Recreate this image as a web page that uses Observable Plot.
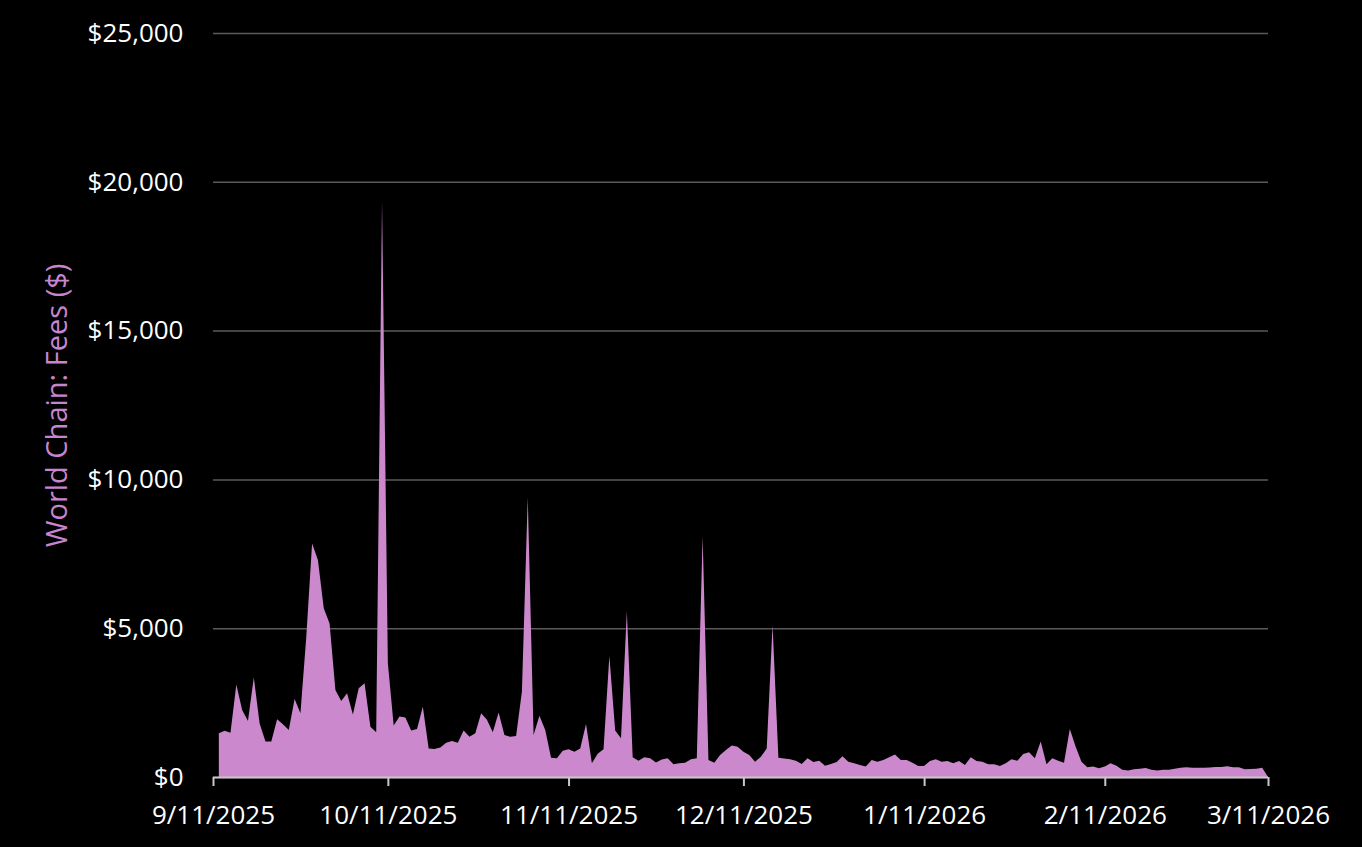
<!DOCTYPE html>
<html>
<head>
<meta charset="utf-8">
<script src="https://cdn.jsdelivr.net/npm/d3@7"></script>
<script src="https://cdn.jsdelivr.net/npm/@observablehq/plot@0.6"></script>
<style>
  html, body { margin: 0; padding: 0; background: #000; }
  #chart svg { display: block; }
</style>
</head>
<body>
<div id="chart"></div>
<script>
// First data day and daily fee values (USD), one per day
const startDate = "2025-09-12";
const fees = [
  1470, 1550, 1490, 3110, 2250, 1880, 3340, 1800, 1190, 1190,
  1940, 1770, 1580, 2620, 2140, 4700, 7850, 7290, 5670, 5160,
  2920, 2550, 2810, 2100, 2980, 3150, 1690, 1500, 19350, 3820,
  1730, 2030, 2000, 1560, 1610, 2360, 960, 940, 990, 1150,
  1210, 1150, 1560, 1350, 1470, 2140, 1920, 1500, 2170, 1410,
  1350, 1380, 2870, 9400, 1410, 2060, 1580, 650, 630, 880,
  930, 850, 960, 1780, 460, 780, 930, 4070, 1560, 1300,
  5580, 660, 550, 660, 630, 490, 590, 630, 430, 460,
  480, 600, 630, 8100, 570, 480, 740, 910, 1060, 1020,
  850, 740, 510, 680, 960, 5110, 650, 620, 600, 550,
  440, 630, 500, 550, 380, 440, 500, 700, 510, 460,
  400, 350, 570, 510, 570, 660, 760, 570, 570, 480,
  370, 370, 540, 600, 510, 540, 460, 540, 400, 660,
  540, 510, 430, 430, 370, 460, 600, 550, 770, 830,
  630, 1190, 430, 630, 550, 480, 1610, 1020, 510, 330,
  350, 290, 350, 460, 380, 240, 220, 260, 280, 300,
  240, 220, 240, 240, 280, 310, 330, 310, 310, 310,
  320, 340, 340, 360, 330, 330, 260, 270, 280, 310,
  0
];
// Axis ticks
const xTickLabels = ["2025-09-11", "2025-10-11", "2025-11-11", "2025-12-11", "2026-01-11", "2026-02-11", "2026-03-11"];
const yTicks = [0, 5000, 10000, 15000, 20000, 25000];
const yTitle = "World Chain: Fees ($)";

const start = new Date(startDate + "T00:00:00Z");
const data = fees.map((v, i) => ({ date: d3.utcDay.offset(start, i), fee: v }));
const xTicks = xTickLabels.map(s => new Date(s + "T00:00:00Z"));

const fmtDate = d3.utcFormat("%-m/%-d/%Y");
const fmtMoney = d => "$" + d3.format(",")(d);

const chart = Plot.plot({
  width: 1362,
  height: 847,
  marginLeft: 213,
  marginRight: 94,
  marginTop: 33,
  marginBottom: 70,
  style: {
    background: "#000",
    color: "#fff",
    fontFamily: "'Open Sans', sans-serif",
    fontSize: "26px",
    overflow: "visible"
  },
  x: { type: "utc", domain: [xTicks[0], xTicks[xTicks.length - 1]] },
  y: { domain: [0, 25000] },
  marks: [
    Plot.ruleY(yTicks, { stroke: "#5a5a5a", strokeWidth: 1.5 }),
    Plot.areaY(data, { x: "date", y: "fee", fill: "#CC88CC", curve: "linear" }),
    Plot.ruleY([0], { stroke: "#c8c8c8", strokeWidth: 2 }),
    Plot.axisX({
      ticks: xTicks,
      tickFormat: fmtDate,
      tickSize: 9,
      tickPadding: 19,
      stroke: "#c8c8c8",
      strokeWidth: 2,
      fill: "#fff",
      fontSize: 26,
      label: null
    }),
    Plot.axisY({
      ticks: yTicks,
      tickFormat: fmtMoney,
      tickSize: 0,
      tickPadding: 30,
      fill: "#fff",
      fontSize: 26,
      label: null
    }),
    Plot.text([yTitle], {
      frameAnchor: "left",
      textAnchor: "middle",
      dx: -156,
      rotate: -90,
      fill: "#C785CF",
      fontSize: 29,
      text: d => d
    })
  ]
});

document.getElementById("chart").appendChild(chart);
</script>
</body>
</html>
